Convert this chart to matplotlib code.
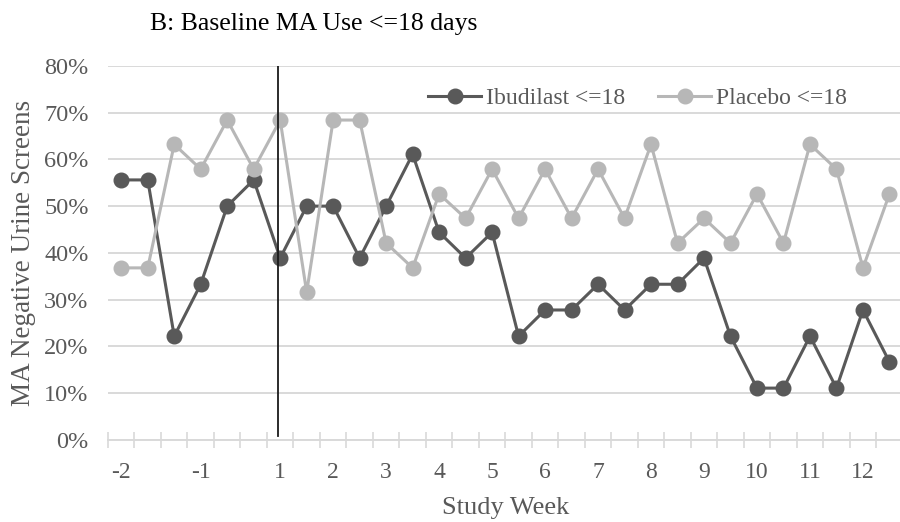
import matplotlib
matplotlib.use("Agg")
import matplotlib.pyplot as plt
import numpy as np

# 30 study timepoints (two screens per week), labels only on some of them
week_labels = ["-2", "", "", "-1", "", "", "1", "", "2", "", "3", "", "4", "",
               "5", "", "6", "", "7", "", "8", "", "9", "", "10", "", "11", "",
               "12", ""]

ibudilast = [55.6, 55.6, 22.2, 33.3, 50.0, 55.6, 38.9, 50.0, 50.0, 38.9,
             50.0, 61.1, 44.4, 38.9, 44.4, 22.2, 27.8, 27.8, 33.3, 27.8,
             33.3, 33.3, 38.9, 22.2, 11.1, 11.1, 22.2, 11.1, 27.8, 16.7]

placebo = [36.8, 36.8, 63.2, 57.9, 68.4, 57.9, 68.4, 31.6, 68.4, 68.4,
           42.1, 36.8, 52.6, 47.4, 57.9, 47.4, 57.9, 47.4, 57.9, 47.4,
           63.2, 42.1, 47.4, 42.1, 52.6, 42.1, 63.2, 57.9, 36.8, 52.6]

plt.rcParams['font.family'] = ['Liberation Serif', 'DejaVu Serif']

dark = '#595959'
light = '#b7b7b7'
grid_c = '#d9d9d9'

fig = plt.figure(figsize=(9, 5.22), dpi=100)
ax = fig.add_axes([0.12, 0.157, 0.883, 0.717])

x = np.arange(len(ibudilast))
ax.plot(x, ibudilast, color=dark, lw=2.2, marker='o', ms=10.5,
        label='Ibudilast <=18', zorder=3)
ax.plot(x, placebo, color=light, lw=2.2, marker='o', ms=10.5,
        label='Placebo <=18', zorder=4)

# start of treatment marker
ax.plot([5.92, 5.92], [0.8, 80], color='#1a1a1a', lw=1.3, zorder=6)

ax.set_ylim(0, 80)
ax.set_xlim(-0.5, len(x) - 0.5)
ax.set_yticks(np.arange(0, 81, 10))
ax.set_yticklabels([f"{v}%" for v in range(0, 81, 10)])
ax.yaxis.grid(True, color=grid_c, lw=1.4)
ax.set_axisbelow(True)

ax.set_xticks(x)
ax.set_xticklabels(week_labels)
ax.set_xticks(np.arange(-0.5, len(x)), minor=True)
ax.tick_params(axis='x', which='major', length=0, pad=16,
               labelsize=17, labelcolor=dark)
ax.tick_params(axis='x', which='minor', direction='inout', length=11,
               width=1.2, color=grid_c)
ax.tick_params(axis='y', length=0, pad=14, labelsize=17.5, labelcolor=dark)

for s in ['top', 'right', 'left']:
    ax.spines[s].set_visible(False)
ax.spines['bottom'].set_color(grid_c)
ax.spines['bottom'].set_linewidth(1.4)

ax.set_xlabel('Study Week', fontsize=19, color=dark, labelpad=10)
ax.set_ylabel('MA Negative Urine Screens', fontsize=19.5, color=dark,
              labelpad=6)

fig.text(0.167, 0.954, 'B: Baseline MA Use <=18 days', fontsize=18.5,
         color='black', va='center', ha='left')

ax.legend(loc='center right', bbox_to_anchor=(0.93, 0.912), ncol=2,
          frameon=False, fontsize=17, labelcolor=dark, borderpad=0,
          borderaxespad=0, handlelength=2.25, columnspacing=1.4,
          handletextpad=0.2)

fig.savefig('out.png', dpi=100)
